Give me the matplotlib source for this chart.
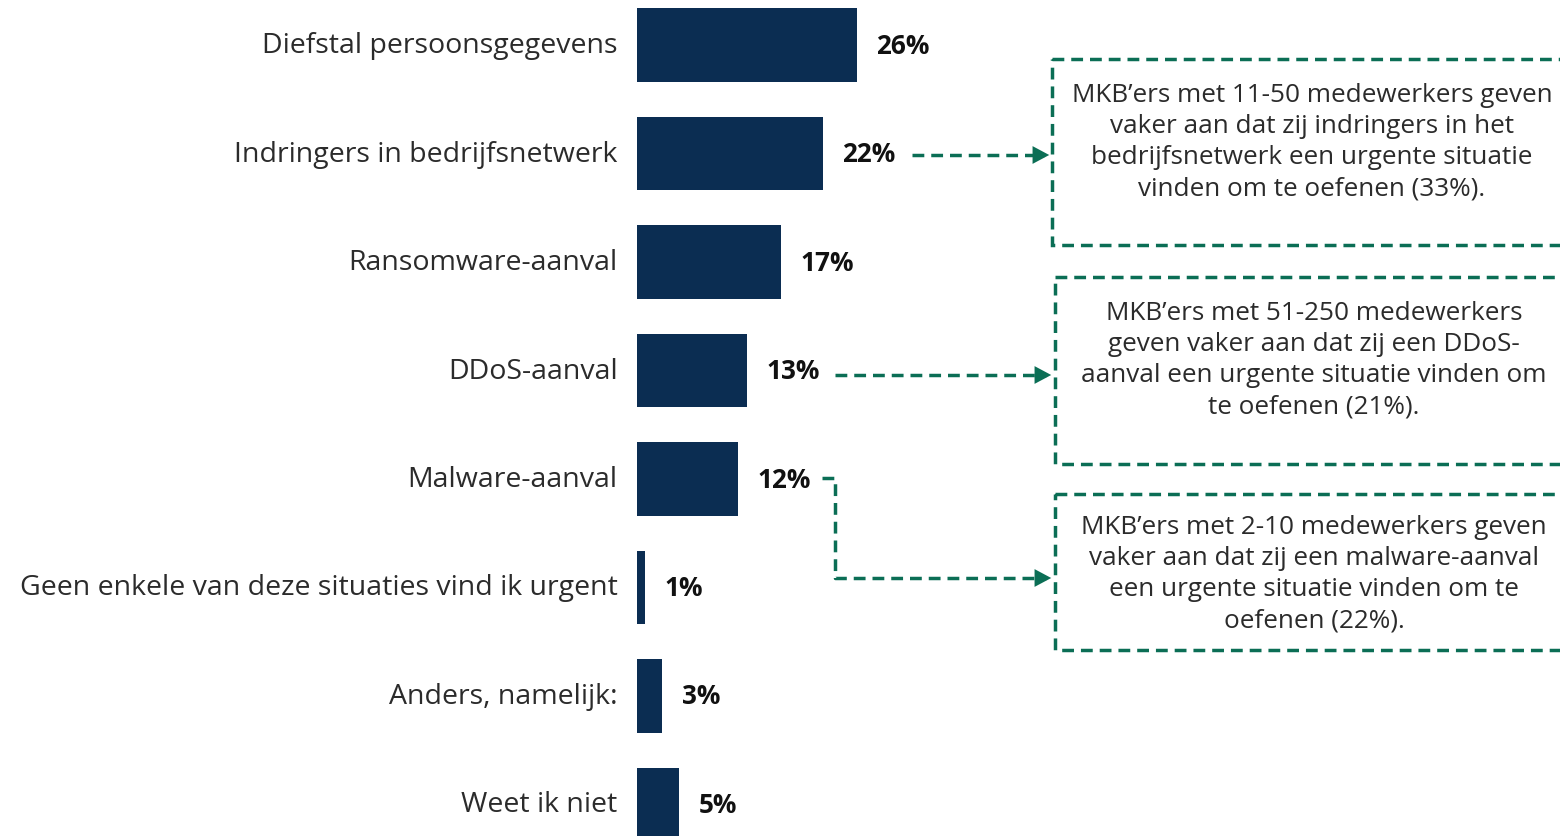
import matplotlib
matplotlib.use("Agg")
import matplotlib.pyplot as plt
from matplotlib.patches import Rectangle

plt.rcParams['font.family'] = ['Open Sans', 'DejaVu Sans']

categories = [
    "Diefstal persoonsgegevens",
    "Indringers in bedrijfsnetwerk",
    "Ransomware-aanval",
    "DDoS-aanval",
    "Malware-aanval",
    "Geen enkele van deze situaties vind ik urgent",
    "Anders, namelijk:",
    "Weet ik niet",
]
values = [26, 22, 17, 13, 12, 1, 3, 5]

notes = [
    "MKB\u2019ers met 11-50 medewerkers geven\nvaker aan dat zij indringers in het\nbedrijfsnetwerk een urgente situatie\nvinden om te oefenen (33%).",
    "MKB\u2019ers met 51-250 medewerkers\ngeven vaker aan dat zij een DDoS-\naanval een urgente situatie vinden om\nte oefenen (21%).",
    "MKB\u2019ers met 2-10 medewerkers geven\nvaker aan dat zij een malware-aanval\neen urgente situatie vinden om te\noefenen (22%).",
]

NAVY = "#0b2d52"
GREEN = "#0b6e55"
TXT = "#2b2b2b"

W, H = 1560, 837
fig = plt.figure(figsize=(W / 100, H / 100), dpi=100)

# bar axes: left edge at bar baseline
ax = fig.add_axes([637 / W, 0, (W - 637) / W, 1])
ax.set_xlim(0, (W - 637) / 8.45)
row = 108.5
top = 46
ax.set_ylim((H - top) / row, -top / row)
ys = list(range(len(categories)))
ax.barh(ys, values, height=0.675, color=NAVY)
ax.set_axis_off()
for y, v, c in zip(ys, values, categories):
    ax.annotate(f"{v}%", (v, y), xytext=(14, 0), textcoords="offset points",
                va="center", ha="left", fontsize=18.8, fontweight="bold", color="#111111")
    ax.annotate(c, (0, y), xytext=(-14, 0), textcoords="offset points",
                va="center", ha="right", fontsize=20.5, color=TXT)

# overlay in pixel coordinates for callouts
ov = fig.add_axes([0, 0, 1, 1], facecolor="none")
ov.set_xlim(0, W)
ov.set_ylim(H, 0)
ov.set_axis_off()

dash = dict(color=GREEN, lw=2.5, linestyle=(0, (3.4, 2.0)))
boxes = [(1052, 60, 186, 1312, 142), (1055, 278, 187, 1314, 360), (1055, 495, 156, 1314, 574)]
for (x0, y0, h, tx, ty), note in zip(boxes, notes):
    ov.add_patch(Rectangle((x0, y0), 600, h, fill=False, **dash))
    ov.text(tx, ty, note, ha="center", va="center", fontsize=18.8, color=TXT,
            linespacing=1.33)

def arrow(xs, ys_):
    ov.plot(xs[:-1] + [xs[-1] - 8], ys_, **dash)
    ov.annotate("", xy=(xs[-1], ys_[-1]), xytext=(xs[-1] - 14, ys_[-1]),
                arrowprops=dict(arrowstyle="-|>,head_length=0.6,head_width=0.32",
                                color=GREEN, lw=0, mutation_scale=20))

arrow([912, 1052], [156, 156])
arrow([835, 1054], [376, 376])
arrow([822, 835, 835, 1054], [479, 479, 579, 579])

fig.savefig("out.png", dpi=100)
